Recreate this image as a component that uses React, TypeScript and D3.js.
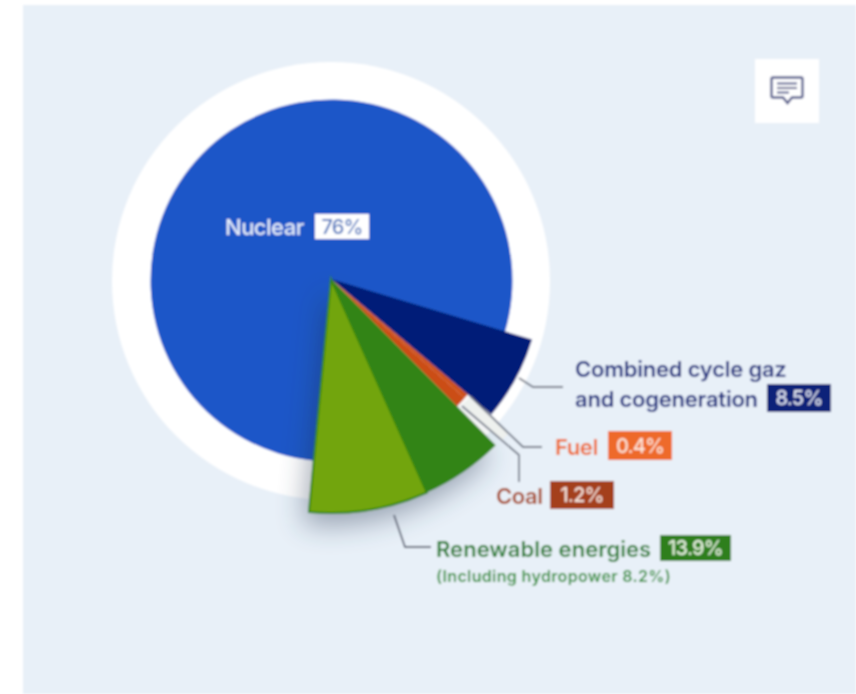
import * as d3 from 'd3';

// Slices in drawing order, clockwise from the left edge of the renewable wedge
const sliceNames = ['Nuclear', 'Combined cycle', 'Fuel', 'Coal', 'Renewables', 'Hydropower'];
// Share of the circle as actually drawn in the picture (it differs a bit from the printed labels)
const sliceShares = [78.0, 6.5, 0.4, 1.0, 5.7, 8.2];

const width = 856;
const height = 694;
const cx = 331;
const cy = 279;
const FONT = 'Inter, "Open Sans", sans-serif';

const sliceColor: Record<string, string> = {
  Nuclear: '#1c57c8',
  'Combined cycle': '#021a78',
  Fuel: '#cf4f17',
  Coal: '#cb4d17',
  Renewables: '#338412',
  Hydropower: '#72a50b',
};
const sliceRadius: Record<string, number> = {
  Nuclear: 181,
  'Combined cycle': 210,
  Fuel: 179,
  Coal: 179,
  Renewables: 234,
  Hydropower: 234,
};

const pie = d3
  .pie<number>()
  .sort(null)
  .startAngle((185.4 * Math.PI) / 180)
  .endAngle((185.4 * Math.PI) / 180 + 2 * Math.PI);
const slices = pie(sliceShares);

const arcFor = (i: number) =>
  d3.arc()({
    innerRadius: 0,
    outerRadius: sliceRadius[sliceNames[i]],
    startAngle: slices[i].startAngle,
    endAngle: slices[i].endAngle,
  }) as string;

const leaderLine = d3.line();
const leaders: [number, number][][] = [
  [[519, 378], [533, 387], [563, 387]],
  [[470, 396], [523, 447], [542, 447]],
  [[462, 406], [519, 455], [519, 482]],
  [[394, 515], [405, 547], [431, 547]],
];

function Badge({ x, y, w, h, fill, color, text, size }: any) {
  return (
    <g>
      <rect x={x} y={y} width={w} height={h} fill={fill} />
      <text
        x={x + w / 2}
        y={y + h / 2 + size * 0.36}
        textAnchor="middle"
        fontSize={size}
        fontWeight={500}
        letterSpacing={-0.8}
        fill={color}
      >
        {text}
      </text>
    </g>
  );
}

export default function App() {
  return (
    <svg
      width={width}
      height={height}
      style={{ position: 'absolute', left: 0, top: 0 }}
      fontFamily={FONT}
    >
      <defs>
        <filter id="soft" x="-2%" y="-2%" width="104%" height="104%">
          <feGaussianBlur stdDeviation="0.8" />
        </filter>
        <filter id="shadow" x="-40%" y="-40%" width="180%" height="180%">
          <feGaussianBlur stdDeviation="14" />
        </filter>
      </defs>
      <rect width={width} height={height} fill="#fff" />
      <g filter="url(#soft)">
        <rect x={23} y={5} width={width - 23} height={height - 5} fill="#e8f0f8" />
        <circle cx={cx} cy={cy + 2} r={219} fill="#fff" />

        <g transform={`translate(${cx},${cy})`}>
          <path d={arcFor(0)} fill={sliceColor.Nuclear} transform="translate(0.5,1.5)" />
          <g transform="translate(-6,12)" filter="url(#shadow)" opacity={0.42}>
            {[4, 5].map((i) => (
              <path key={i} d={arcFor(i)} fill="#26344f" />
            ))}
          </g>
          {slices.map((s, i) =>
            i === 0 ? null : (
              <path
                key={sliceNames[i]}
                d={arcFor(i)}
                fill={sliceColor[sliceNames[i]]}
                stroke={i === 5 ? '#338412' : 'none'}
                strokeWidth={i === 5 ? 2 : 0}
              />
            ),
          )}
        </g>

        {/* pale band behind the two thin slice leaders */}
        <path d={leaderLine([[466, 401], [505, 437]]) as string} stroke="#eef1ee" strokeWidth={9} fill="none" />
        {leaders.map((pts, i) => (
          <path
            key={i}
            d={leaderLine(pts) as string}
            fill="none"
            stroke={i === 3 ? '#5a6072' : '#6f7684'}
            strokeWidth={1.8}
          />
        ))}

        <text x={225} y={235} fontSize={22} fontWeight={500} letterSpacing={-0.5} fill="#e6eefb">Nuclear</text>
        <Badge x={315} y={214} w={54} h={25} fill="#fff" color="#4f76bd" text="76%" size={20} />

        <text fontSize={22} fontWeight={600} letterSpacing={-0.22} fill="#1a2e80">
          <tspan x={575} y={377}>Combined cycle gaz</tspan>
          <tspan x={575} y={407}>and cogeneration</tspan>
        </text>
        <Badge x={767} y={384} w={64} h={28} fill="#0d2379" color="#dfe4f2" text="8.5%" size={20} />

        <text x={555} y={455} fontSize={22} fontWeight={600} letterSpacing={-0.4} fill="#ee6a2e">Fuel</text>
        <Badge x={608} y={431} w={64} h={29} fill="#ee6a2a" color="#fde5d8" text="0.4%" size={20} />

        <text x={496} y={504} fontSize={22} fontWeight={600} letterSpacing={-0.4} fill="#a84a26">Coal</text>
        <Badge x={550} y={481} w={64} h={28} fill="#a43f1b" color="#f6e4dc" text="1.2%" size={20} />

        <text x={436} y={557} fontSize={22} fontWeight={600} letterSpacing={0.03} fill="#2f8038">Renewable energies</text>
        <Badge x={660} y={535} w={71} h={26} fill="#2f7f1c" color="#e6f2e0" text="13.9%" size={20} />
        <text x={436} y={582} fontSize={16} fontWeight={600} letterSpacing={0.35} fill="#35913c">(Including hydropower 8.2%)</text>

        {/* comment icon */}
        <rect x={755} y={59} width={64} height={64} fill="#fff" />
        <path
          d="M773 77.500 H801 Q802.500 77.500 802.500 79 V96 Q802.500 97.500 801 97.500 H792 L787.500 103 L783 97.500 H773 Q771.500 97.500 771.500 96 V79 Q771.500 77.500 773 77.500 Z"
          fill="none"
          stroke="#555c8c"
          strokeWidth={2.4}
        />
        <path d="M777 83.500 H797 M777 88 H797 M777 92.500 H789" stroke="#555c8c" strokeWidth={2.2} fill="none" />
      </g>
    </svg>
  );
}
